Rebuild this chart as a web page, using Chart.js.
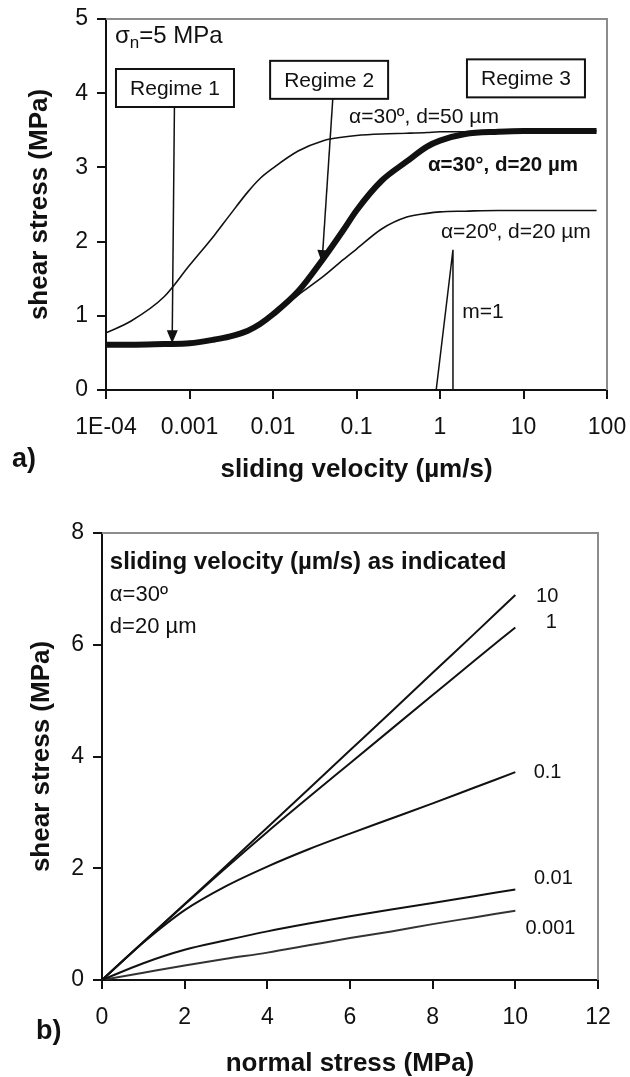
<!DOCTYPE html>
<html>
<head>
<meta charset="utf-8">
<script src="https://cdn.jsdelivr.net/npm/chart.js@4.4.0/dist/chart.umd.min.js"></script>
<style>
  body { margin: 0; background: #fff; }
  .panel { position: absolute; left: 0; }
  #panelA { top: 0; }
  #panelB { top: 500px; }
</style>
</head>
<body>
<div class="panel" id="panelA"><canvas id="chartA" width="630" height="500"></canvas></div>
<div class="panel" id="panelB"><canvas id="chartB" width="630" height="577"></canvas></div>
<script>
// ---- a) shear stress vs sliding velocity, sigma_n = 5 MPa ----
var velocity = [0.0001, 0.0002, 0.0005, 0.001, 0.002, 0.003, 0.005, 0.007, 0.01, 0.02, 0.04, 0.07, 0.1, 0.2, 0.4, 0.7, 1, 2, 5, 10, 30, 75];
var shear30d50 = [0.77, 0.93, 1.26, 1.68, 2.09, 2.35, 2.67, 2.85, 2.99, 3.22, 3.36, 3.41, 3.43, 3.45, 3.46, 3.47, 3.48, 3.48, 3.49, 3.49, 3.49, 3.49];
var shear30d20 = [0.61, 0.61, 0.62, 0.63, 0.68, 0.72, 0.80, 0.89, 1.02, 1.33, 1.77, 2.16, 2.42, 2.82, 3.08, 3.28, 3.36, 3.45, 3.48, 3.49, 3.49, 3.49];
var shear20d20 = [0.61, 0.61, 0.62, 0.63, 0.68, 0.72, 0.80, 0.89, 1.01, 1.28, 1.53, 1.76, 1.90, 2.17, 2.33, 2.38, 2.40, 2.41, 2.42, 2.42, 2.42, 2.42];
var slopeX = [0.9, 1.43, 1.43];
var slopeY = [0, 1.89, 0];
var velocityTicks = [0.0001, 0.001, 0.01, 0.1, 1, 10, 100];
var velocityTickLabels = ['1E-04', '0.001', '0.01', '0.1', '1', '10', '100'];

// ---- b) shear stress vs normal stress, alpha = 30, d = 20 um ----
var normalStress = [0, 1, 2, 3, 4, 5, 6, 7, 8, 9, 10];
var shearV10 = [0, 0.68, 1.36, 2.04, 2.73, 3.42, 4.11, 4.80, 5.50, 6.19, 6.89];
var shearV1 = [0, 0.68, 1.35, 2.01, 2.65, 3.27, 3.88, 4.49, 5.10, 5.71, 6.31];
var shearV01 = [0, 0.67, 1.25, 1.68, 2.03, 2.34, 2.62, 2.89, 3.16, 3.44, 3.72];
var shearV001 = [0, 0.30, 0.54, 0.71, 0.87, 1.01, 1.14, 1.26, 1.38, 1.50, 1.62];
var shearV0001 = [0, 0.13, 0.26, 0.38, 0.49, 0.62, 0.75, 0.87, 1.00, 1.12, 1.24];
var velocityNames = ['10', '1', '0.1', '0.01', '0.001'];

var FONT = '"Liberation Sans", Arial, Helvetica, sans-serif';
Chart.defaults.font.family = FONT;
Chart.defaults.color = '#111';
Chart.defaults.animation = false;

function pairs(xs, ys) {
	return xs.map(function (v, i) { return { x: v, y: ys[i] }; });
}

function curve(label, xs, ys, width, colour) {
	return {
		label: label,
		data: pairs(xs, ys),
		showLine: true,
		borderColor: colour || '#111',
		borderWidth: width,
		pointRadius: 0,
		cubicInterpolationMode: 'monotone'
	};
}

// fixed axis box size, no extra room for the end labels
function fixSize(w, h) {
	return function (s) {
		if (w) s.width = w;
		if (h) s.height = h;
		s.paddingLeft = 0;
		s.paddingRight = 0;
		s.paddingTop = 0;
		s.paddingBottom = 0;
	};
}

// grey top and right edges of the plot box
var frame = {
	id: 'frame',
	beforeDatasetsDraw: function (chart) {
		var ctx = chart.ctx, a = chart.chartArea;
		ctx.save();
		ctx.strokeStyle = '#8c8c8c';
		ctx.lineWidth = 2;
		ctx.beginPath();
		ctx.moveTo(a.left, a.top);
		ctx.lineTo(a.right, a.top);
		ctx.lineTo(a.right, a.bottom);
		ctx.stroke();
		ctx.restore();
	}
};

function arrow(ctx, x0, y0, x1, y1) {
	var a = Math.atan2(y1 - y0, x1 - x0);
	var c = Math.cos(a), s = Math.sin(a);
	ctx.beginPath();
	ctx.moveTo(x0, y0);
	ctx.lineTo(x1 - 10 * c, y1 - 10 * s);
	ctx.stroke();
	ctx.beginPath();
	ctx.moveTo(x1, y1);
	ctx.lineTo(x1 - 13 * c + 5.5 * s, y1 - 13 * s - 5.5 * c);
	ctx.lineTo(x1 - 13 * c - 5.5 * s, y1 - 13 * s + 5.5 * c);
	ctx.closePath();
	ctx.fill();
}

// annotations for a), placed in data units
var regimes = [
	{ text: 'Regime 1', x: 0.00067, y: 4.07, arrowFrom: 0.00066, arrowTo: [0.00062, 0.63] },
	{ text: 'Regime 2', x: 0.047, y: 4.18, arrowFrom: 0.052, arrowTo: [0.0386, 1.71] },
	{ text: 'Regime 3', x: 10.7, y: 4.2 }
];
var curveNotes = [
	{ text: 'α=30º, d=50 µm', x: 0.643, y: 3.67, bold: false },
	{ text: 'α=30°, d=20 µm', x: 5.68, y: 3.03, bold: true },
	{ text: 'α=20º, d=20 µm', x: 8.1, y: 2.13, bold: false },
	{ text: 'm=1', x: 3.27, y: 1.05, bold: false }
];

var notesA = {
	id: 'notesA',
	afterDatasetsDraw: function (chart) {
		var ctx = chart.ctx, x = chart.scales.x, y = chart.scales.y;
		ctx.save();
		ctx.textBaseline = 'middle';
		ctx.textAlign = 'center';
		ctx.strokeStyle = '#111';
		regimes.forEach(function (r) {
			var cx = x.getPixelForValue(r.x), cy = y.getPixelForValue(r.y);
			ctx.lineWidth = 1.5;
			ctx.fillStyle = '#111';
			if (r.arrowTo) {
				arrow(ctx, x.getPixelForValue(r.arrowFrom), cy + 19,
					x.getPixelForValue(r.arrowTo[0]), y.getPixelForValue(r.arrowTo[1]));
			}
			ctx.fillStyle = '#fff';
			ctx.fillRect(cx - 59, cy - 19, 118, 38);
			ctx.lineWidth = 2;
			ctx.strokeRect(cx - 59, cy - 19, 118, 38);
			ctx.fillStyle = '#111';
			ctx.font = '21px ' + FONT;
			ctx.fillText(r.text, cx, cy + 1);
		});
		curveNotes.forEach(function (n) {
			ctx.font = (n.bold ? 'bold 20.5px ' : '21px ') + FONT;
			ctx.fillText(n.text, x.getPixelForValue(n.x), y.getPixelForValue(n.y));
		});
		// sigma_n = 5 MPa
		var px = x.getPixelForValue(0.000128), py = y.getPixelForValue(4.76);
		ctx.textAlign = 'left';
		ctx.font = '24px ' + FONT;
		ctx.fillText('σ', px, py);
		px += ctx.measureText('σ').width;
		ctx.font = '17px ' + FONT;
		ctx.fillText('n', px, py + 7);
		px += ctx.measureText('n').width;
		ctx.font = '24px ' + FONT;
		ctx.fillText('=5 MPa', px, py);
		// panel letter
		ctx.font = 'bold 27px ' + FONT;
		ctx.fillText('a)', 12, 460);
		ctx.restore();
	}
};

var axisGrid = { drawOnChartArea: false, tickLength: 9, color: '#111', lineWidth: 2 };
var axisBorder = { color: '#111', width: 2 };
var titleFont = { size: 26, weight: 'bold', lineHeight: 1 };

new Chart(document.getElementById('chartA'), {
	type: 'scatter',
	data: {
		datasets: [
			curve('α=30º, d=50 µm', velocity, shear30d50, 1.6),
			curve('α=20º, d=20 µm', velocity, shear20d20, 1.6),
			curve('α=30°, d=20 µm', velocity, shear30d20, 6),
			{ label: 'm=1', data: pairs(slopeX, slopeY), showLine: true, borderColor: '#111', borderWidth: 1.5, pointRadius: 0, tension: 0 }
		]
	},
	options: {
		responsive: false,
		layout: { padding: { left: 0, right: 23, top: 19, bottom: 0 } },
		plugins: { legend: { display: false }, tooltip: { enabled: false } },
		scales: {
			x: {
				type: 'logarithmic',
				min: 0.0001,
				max: 100,
				afterBuildTicks: function (s) { s.ticks = velocityTicks.map(function (v) { return { value: v }; }); },
				afterFit: fixSize(0, 110),
				ticks: {
					autoSkip: false, maxRotation: 0, padding: 15, font: { size: 23 },
					callback: function (v, i) { return velocityTickLabels[i]; }
				},
				grid: axisGrid,
				border: axisBorder,
				title: { display: true, text: 'sliding velocity (µm/s)', font: titleFont, padding: { top: 0, bottom: 17 } }
			},
			y: {
				min: 0,
				max: 5,
				afterFit: fixSize(106, 0),
				ticks: { stepSize: 1, padding: 9, font: { size: 23 } },
				grid: axisGrid,
				border: axisBorder,
				title: { display: true, text: 'shear stress (MPa)', font: titleFont, padding: { top: 27, bottom: 0 } }
			}
		}
	},
	plugins: [frame, notesA]
});

// annotations for b)
var endLabels = [
	{ x: 10.77, y: 6.87 },
	{ x: 10.87, y: 6.40 },
	{ x: 10.78, y: 3.71 },
	{ x: 10.92, y: 1.82 },
	{ x: 10.85, y: 0.93 }
];

var notesB = {
	id: 'notesB',
	afterDatasetsDraw: function (chart) {
		var ctx = chart.ctx, x = chart.scales.x, y = chart.scales.y;
		ctx.save();
		ctx.fillStyle = '#111';
		ctx.textBaseline = 'middle';
		ctx.textAlign = 'center';
		ctx.font = '20px ' + FONT;
		velocityNames.forEach(function (name, i) {
			ctx.fillText(name, x.getPixelForValue(endLabels[i].x), y.getPixelForValue(endLabels[i].y));
		});
		ctx.textAlign = 'left';
		var lx = x.getPixelForValue(0.19);
		ctx.font = 'bold 24px ' + FONT;
		ctx.fillText('sliding velocity (µm/s) as indicated', lx, y.getPixelForValue(7.47));
		ctx.font = '22px ' + FONT;
		ctx.fillText('α=30º', lx, y.getPixelForValue(6.89));
		ctx.fillText('d=20 µm', lx, y.getPixelForValue(6.32));
		ctx.font = 'bold 27px ' + FONT;
		ctx.fillText('b)', 36, 532);
		ctx.restore();
	}
};

new Chart(document.getElementById('chartB'), {
	type: 'scatter',
	data: {
		datasets: [
			curve('10', normalStress, shearV10, 2),
			curve('1', normalStress, shearV1, 2),
			curve('0.1', normalStress, shearV01, 2),
			curve('0.01', normalStress, shearV001, 2),
			curve('0.001', normalStress, shearV0001, 2, '#333')
		]
	},
	options: {
		responsive: false,
		layout: { padding: { left: 0, right: 32, top: 33, bottom: 0 } },
		plugins: { legend: { display: false }, tooltip: { enabled: false } },
		scales: {
			x: {
				min: 0,
				max: 12,
				afterFit: fixSize(0, 97),
				ticks: { stepSize: 2, padding: 15, font: { size: 23 } },
				grid: axisGrid,
				border: axisBorder,
				title: { display: true, text: 'normal stress (MPa)', font: titleFont, padding: { top: 0, bottom: 0 } }
			},
			y: {
				min: 0,
				max: 8,
				afterFit: fixSize(102, 0),
				ticks: { stepSize: 2, padding: 9, font: { size: 23 } },
				grid: axisGrid,
				border: axisBorder,
				title: { display: true, text: 'shear stress (MPa)', font: titleFont, padding: { top: 29, bottom: 0 } }
			}
		}
	},
	plugins: [frame, notesB]
});
</script>
</body>
</html>
